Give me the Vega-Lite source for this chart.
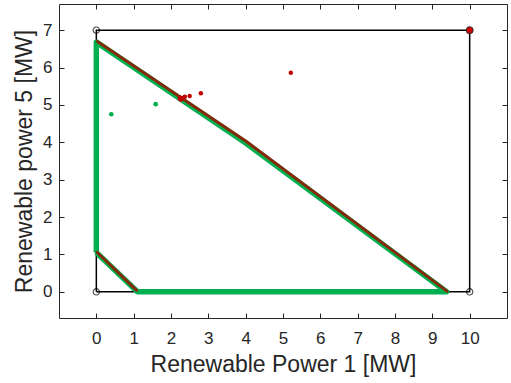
{
  "$schema": "https://vega.github.io/schema/vega-lite/v6.json",
  "autosize": "none",
  "width": 448,
  "height": 314,
  "padding": {"left": 59, "top": 4, "right": 4, "bottom": 65},
  "background": "white",
  "config": {
    "font": "Liberation Sans",
    "view": {"stroke": "#262626", "strokeWidth": 1},
    "axis": {
      "domain": false,
      "grid": false,
      "ticks": true,
      "tickSize": 5,
      "offset": -5,
      "tickWidth": 1,
      "tickColor": "#262626",
      "tickOpacity": 1,
      "zindex": 1,
      "labelColor": "#262626",
      "titleColor": "#262626",
      "labelFont": "Liberation Sans",
      "titleFont": "Liberation Sans",
      "labelFontSize": 17,
      "titleFontSize": 23,
      "titleFontWeight": "normal"
    }
  },
  "datasets": {
    "frame": [
      {"i": 0, "x": 0, "y": 0}, {"i": 1, "x": 10, "y": 0}, {"i": 2, "x": 10, "y": 7},
      {"i": 3, "x": 0, "y": 7}, {"i": 4, "x": 0, "y": 0}
    ],
    "green": [
      {"i": 0, "x": 0, "y": 1.05}, {"i": 1, "x": 0, "y": 6.68}, {"i": 2, "x": 4.0, "y": 3.98},
      {"i": 3, "x": 9.38, "y": 0}, {"i": 4, "x": 1.1, "y": 0}, {"i": 5, "x": 0, "y": 1.05}
    ],
    "brown": [
      {"s": "upper", "i": 0, "x": 0, "y": 6.72}, {"s": "upper", "i": 1, "x": 4.02, "y": 4.02},
      {"s": "upper", "i": 2, "x": 9.42, "y": 0.0},
      {"s": "lower", "i": 0, "x": 0, "y": 1.08}, {"s": "lower", "i": 1, "x": 1.1, "y": 0.02}
    ],
    "corners": [
      {"x": 0, "y": 0}, {"x": 0, "y": 7}, {"x": 10, "y": 0}
    ],
    "gdots": [
      {"x": 0.4, "y": 4.75}, {"x": 1.59, "y": 5.02}
    ],
    "rdots": [
      {"x": 2.37, "y": 5.22}, {"x": 2.5, "y": 5.24}, {"x": 2.8, "y": 5.31}, {"x": 5.21, "y": 5.86}
    ],
    "rbig": [
      {"x": 2.26, "y": 5.17}
    ],
    "rcorner": [
      {"x": 10, "y": 7}
    ]
  },
  "resolve": {"axis": {"x": "independent", "y": "independent"}},
  "layer": [
    {
      "encoding": {
        "x": {
          "field": "x", "type": "quantitative",
          "scale": {"domain": [-1, 11], "nice": false, "zero": false},
          "axis": {"values": [0,1,2,3,4,5,6,7,8,9,10], "title": "Renewable Power 1 [MW]", "labelPadding": 12, "titlePadding": 7}
        },
        "y": {
          "field": "y", "type": "quantitative",
          "scale": {"domain": [-0.7, 7.7], "nice": false, "zero": false},
          "axis": {"values": [0,1,2,3,4,5,6,7], "title": "Renewable power 5 [MW]", "labelPadding": 7, "titlePadding": 6}
        }
      },
      "layer": [
        {
          "data": {"name": "frame"},
          "mark": {"type": "line", "color": "black", "strokeWidth": 1.5},
          "encoding": {"order": {"field": "i"}}
        },
        {
          "data": {"name": "green"},
          "mark": {"type": "line", "color": "#00b050", "strokeWidth": 5.5, "strokeJoin": "round"},
          "encoding": {"order": {"field": "i"}}
        },
        {
          "data": {"name": "brown"},
          "mark": {"type": "line", "color": "#852a0c", "strokeWidth": 3},
          "encoding": {"order": {"field": "i"}, "detail": {"field": "s"}}
        },
        {
          "data": {"name": "corners"},
          "mark": {"type": "point", "shape": "circle", "filled": false, "stroke": "black", "strokeWidth": 1.2, "size": 40}
        },
        {
          "data": {"name": "gdots"},
          "mark": {"type": "circle", "color": "#00b050", "opacity": 1, "size": 22}
        },
        {
          "data": {"name": "rdots"},
          "mark": {"type": "circle", "color": "#c00000", "opacity": 1, "size": 20}
        },
        {
          "data": {"name": "rbig"},
          "mark": {"type": "circle", "color": "#c00000", "opacity": 1, "size": 38}
        },
        {
          "data": {"name": "rcorner"},
          "mark": {"type": "point", "shape": "circle", "filled": true, "fill": "#d00000", "stroke": "#333333", "strokeWidth": 1, "size": 50, "opacity": 1}
        }
      ]
    },
    {
      "data": {"name": "corners"},
      "mark": {"type": "point", "opacity": 0},
      "encoding": {
        "x": {"field": "x", "type": "quantitative", "axis": {"orient": "top", "values": [0,1,2,3,4,5,6,7,8,9,10], "labels": false, "title": null}},
        "y": {"field": "y", "type": "quantitative", "axis": {"orient": "right", "values": [0,1,2,3,4,5,6,7], "labels": false, "title": null}}
      }
    }
  ]
}
